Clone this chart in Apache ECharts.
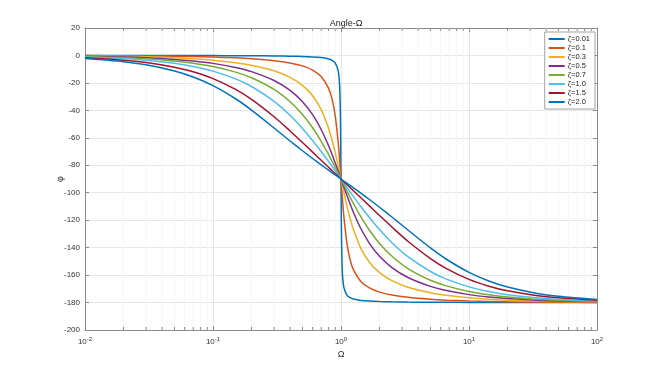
<!DOCTYPE html>
<html><head><meta charset="utf-8">
<script src="https://cdn.jsdelivr.net/npm/echarts@6/dist/echarts.min.js"></script>
<style>html,body{margin:0;padding:0;background:#fff}#c{width:660px;height:371px}</style>
</head><body><div id="c"></div>
<script>
// Frequency ratio samples (Ω)
const omega = [0.01, 0.02, 0.03, 0.05, 0.07, 0.1, 0.15, 0.2, 0.3, 0.4, 0.5, 0.6, 0.7, 0.8, 0.85, 0.9, 0.95, 0.97, 0.98, 0.99, 0.995, 1,
  1.005, 1.0101, 1.0204, 1.0309, 1.0526, 1.1111, 1.1765, 1.25, 1.4286, 1.6667, 2, 2.5, 3.3333, 5, 6.6667, 10, 14.286, 20, 33.333, 50, 100];

const seriesNames = ['ζ=0.01', 'ζ=0.1', 'ζ=0.3', 'ζ=0.5', 'ζ=0.7', 'ζ=1.0', 'ζ=1.5', 'ζ=2.0'];
const seriesColors = ['#0072BD', '#D95319', '#EDB120', '#7E2F8E', '#77AC30', '#4DBEEE', '#A2142F', '#0072BD'];

const phiZ001 = [-0.01, -0.02, -0.03, -0.06, -0.08, -0.12, -0.18, -0.24, -0.38, -0.55, -0.76, -1.07, -1.57, -2.55, -3.51, -5.41, -11.03, -18.17, -26.33, -44.86, -63.38, -90,
  -116.62, -135.14, -153.67, -161.83, -168.97, -174.59, -176.49, -177.45, -178.43, -178.93, -179.24, -179.45, -179.62, -179.76, -179.82, -179.88, -179.92, -179.94, -179.97, -179.98, -179.99];
const phiZ01 = [-0.11, -0.23, -0.34, -0.57, -0.81, -1.16, -1.76, -2.39, -3.77, -5.44, -7.60, -10.62, -15.35, -23.96, -31.49, -43.45, -62.84, -73.06, -78.58, -84.26, -87.13, -90,
  -92.87, -95.74, -101.42, -106.94, -117.16, -136.55, -148.51, -156.04, -164.65, -169.38, -172.40, -174.56, -176.23, -177.61, -178.24, -178.84, -179.19, -179.43, -179.66, -179.77, -179.89];
const phiZ03 = [-0.34, -0.69, -1.03, -1.72, -2.42, -3.47, -5.26, -7.13, -11.19, -15.95, -21.80, -29.36, -39.47, -53.13, -61.45, -70.62, -80.29, -84.20, -86.15, -88.08, -89.04, -90,
  -90.96, -91.92, -93.85, -95.80, -99.71, -109.38, -118.55, -126.87, -140.53, -150.64, -158.20, -164.05, -168.81, -172.87, -174.74, -176.53, -177.58, -178.28, -178.97, -179.31, -179.66];
const phiZ05 = [-0.57, -1.15, -1.72, -2.87, -4.02, -5.77, -8.72, -11.77, -18.25, -25.46, -33.69, -43.15, -53.92, -65.77, -71.92, -78.08, -84.14, -86.51, -87.69, -88.85, -89.43, -90,
  -90.57, -91.15, -92.31, -93.49, -95.86, -101.92, -108.08, -114.23, -126.08, -136.85, -146.31, -154.54, -161.75, -168.23, -171.28, -174.23, -175.98, -177.13, -178.28, -178.85, -179.43];
const phiZ07 = [-0.80, -1.60, -2.41, -4.01, -5.62, -8.05, -12.13, -16.26, -24.78, -33.69, -43.03, -52.70, -62.51, -72.18, -76.87, -81.43, -85.81, -87.51, -88.35, -89.18, -89.59, -90,
  -90.41, -90.82, -91.65, -92.49, -94.19, -98.57, -103.13, -107.82, -117.49, -127.30, -136.97, -146.31, -155.22, -163.74, -167.87, -171.95, -174.38, -175.99, -177.59, -178.40, -179.20];
const phiZ10 = [-1.15, -2.29, -3.44, -5.72, -8.01, -11.42, -17.06, -22.62, -33.40, -43.60, -53.13, -61.93, -69.98, -77.32, -80.73, -83.97, -87.06, -88.26, -88.84, -89.42, -89.71, -90,
  -90.29, -90.58, -91.16, -91.74, -92.94, -96.03, -99.27, -102.68, -110.02, -118.07, -126.87, -136.40, -146.60, -157.38, -162.94, -168.58, -171.99, -174.28, -176.56, -177.71, -178.85];
const phiZ15 = [-1.72, -3.44, -5.15, -8.55, -11.92, -16.86, -24.72, -32.01, -44.68, -55.01, -63.43, -70.43, -76.35, -81.47, -83.79, -85.98, -88.04, -88.84, -89.23, -89.62, -89.81, -90,
  -90.19, -90.38, -90.77, -91.16, -91.96, -94.02, -96.21, -98.53, -103.65, -109.57, -116.57, -124.99, -135.32, -147.99, -155.28, -163.14, -168.08, -171.45, -174.85, -176.56, -178.28];
const phiZ20 = [-2.29, -4.58, -6.85, -11.34, -15.72, -22.00, -31.54, -39.81, -52.83, -62.30, -69.44, -75.07, -79.68, -83.58, -85.33, -86.98, -88.53, -89.13, -89.42, -89.71, -89.86, -90,
  -90.14, -90.29, -90.58, -90.87, -91.47, -93.02, -94.67, -96.42, -100.32, -104.93, -110.56, -117.70, -127.17, -140.19, -148.46, -158.00, -164.28, -168.66, -173.15, -175.42, -177.71];

const allPhi = [phiZ001, phiZ01, phiZ03, phiZ05, phiZ07, phiZ10, phiZ15, phiZ20];

// minor tick positions on the log axis (2..9 per decade)
const minorTicks = [0.02,0.03,0.04,0.05,0.06,0.07,0.08,0.09, 0.2,0.3,0.4,0.5,0.6,0.7,0.8,0.9, 2,3,4,5,6,7,8,9, 20,30,40,50,60,70,80,90];

const yMin = -200, yMax = 20, yStep = 20;
const xMin = 0.01, xMax = 100;

const chart = echarts.init(document.getElementById('c'), null, {renderer: 'canvas'});
const axisColor = '#8a8a8a';
const textColor = '#333';
const ff = 'Liberation Sans, Arial, sans-serif';

const lineSeries = allPhi.map((arr, i) => ({
  name: seriesNames[i],
  type: 'line',
  data: omega.map((w, j) => [w, arr[j]]),
  showSymbol: false,
  smooth: 0.3,
  lineStyle: {width: 1.5, color: seriesColors[i]},
  itemStyle: {color: seriesColors[i]},
  z: 3 + i,
  animation: false
}));

const minorSeries = {
  type: 'custom',
  silent: true,
  data: minorTicks.map(v => [v]),
  encode: {x: 0},
  renderItem: function (params, api) {
    const v = api.value(0);
    const b = api.coord([v, yMin]);
    const t = api.coord([v, yMax]);
    return {
      type: 'group',
      children: [
        {type: 'line', shape: {x1: b[0], y1: t[1], x2: b[0], y2: b[1]}, style: {stroke: '#f6f6f6', lineWidth: 1}},
        {type: 'line', shape: {x1: b[0], y1: b[1], x2: b[0], y2: b[1] - 3}, style: {stroke: axisColor, lineWidth: 1}},
        {type: 'line', shape: {x1: b[0], y1: t[1], x2: b[0], y2: t[1] + 3}, style: {stroke: axisColor, lineWidth: 1}}
      ]
    };
  },
  z: 1,
  animation: false
};

const option = {
  animation: false,
  backgroundColor: '#fff',
  title: {
    text: 'Angle-Ω',
    left: 341, top: 14, textAlign: 'center',
    textStyle: {fontSize: 9, fontWeight: 'normal', color: '#222', fontFamily: ff}
  },
  grid: {left: 85, right: 63, top: 28, bottom: 41},
  legend: {
    orient: 'vertical',
    right: 65, top: 32,
    data: seriesNames,
    icon: 'rect',
    itemWidth: 16, itemHeight: 2,
    itemGap: 1,
    backgroundColor: '#fff',
    borderColor: '#8a8a8a', borderWidth: 0.8,
    padding: [3, 5, 3, 4],
    textStyle: {fontSize: 7.5, color: '#222', lineHeight: 8, padding: [0, 0, 0, -2], fontFamily: ff}
  },
  xAxis: [{
    type: 'log', logBase: 10, min: xMin, max: xMax,
    name: 'Ω', nameLocation: 'middle', nameGap: 20, nameMoveOverlap: false,
    nameTextStyle: {fontSize: 9, color: textColor, fontFamily: ff},
    axisLine: {show: true, onZero: false, lineStyle: {color: axisColor, width: 1}},
    axisTick: {show: true, inside: true, length: 4, lineStyle: {color: axisColor}},
    axisLabel: {
      fontSize: 8, color: textColor, margin: 6,
      fontFamily: ff,
      formatter: function (v) { return '10{s|' + Math.round(Math.log10(v)) + '}'; },
      rich: {s: {fontSize: 6, verticalAlign: 'top', padding: [0, 0, 6, 0], color: textColor}}
    },
    splitLine: {show: true, lineStyle: {color: '#e6e6e6', width: 1}}
  }, {
    type: 'log', logBase: 10, min: xMin, max: xMax, position: 'top',
    axisLine: {show: true, onZero: false, lineStyle: {color: axisColor, width: 1}},
    axisTick: {show: true, inside: true, length: 4, lineStyle: {color: axisColor}},
    axisLabel: {show: false}, splitLine: {show: false}
  }],
  yAxis: [{
    type: 'value', min: yMin, max: yMax, interval: yStep,
    name: 'φ', nameLocation: 'middle', nameGap: 20, nameRotate: 90, nameMoveOverlap: false,
    nameTextStyle: {fontSize: 9, color: textColor, fontFamily: ff},
    axisLine: {show: true, onZero: false, lineStyle: {color: axisColor, width: 1}},
    axisTick: {show: true, inside: true, length: 4, lineStyle: {color: axisColor}},
    axisLabel: {fontSize: 8, color: textColor, margin: 5, fontFamily: ff},
    splitLine: {show: true, lineStyle: {color: '#e6e6e6', width: 1}}
  }, {
    type: 'value', min: yMin, max: yMax, interval: yStep, position: 'right',
    axisLine: {show: true, onZero: false, lineStyle: {color: axisColor, width: 1}},
    axisTick: {show: true, inside: true, length: 4, lineStyle: {color: axisColor}},
    axisLabel: {show: false}, splitLine: {show: false}
  }],
  series: [minorSeries].concat(lineSeries)
};
chart.setOption(option);
</script>
</body></html>
